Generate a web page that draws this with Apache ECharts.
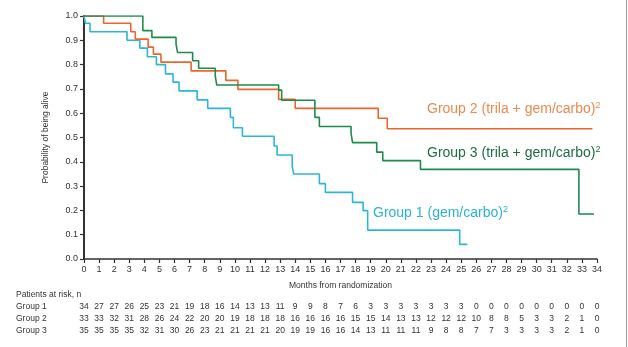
<!DOCTYPE html>
<html>
<head>
<meta charset="utf-8">
<script src="https://cdn.jsdelivr.net/npm/echarts@6/dist/echarts.min.js"></script>
<style>
  html, body { margin: 0; padding: 0; background: #fff; }
  #chart { width: 628px; height: 347px; }
</style>
</head>
<body>
<div id="chart"></div>
<script>
// Kaplan–Meier overall survival, three treatment groups
const g1Times = [0, 0.1, 0.4, 2.85, 3.7, 4.2, 4.8, 5.4, 5.9, 6.3, 7.5, 8.2, 9.7, 9.9, 10.5, 12.6, 12.8, 13.8, 13.9, 15.6, 16.0, 17.8, 18.5, 18.8, 24.9, 25.4];
const g1Surv  = [1.0, 0.97, 0.935, 0.90, 0.868, 0.832, 0.80, 0.762, 0.728, 0.692, 0.655, 0.62, 0.583, 0.54, 0.505, 0.465, 0.428, 0.38, 0.35, 0.31, 0.274, 0.233, 0.199, 0.119, 0.06, 0.06];

const g2Times = [0, 1.3, 3.1, 3.4, 4.25, 4.6, 5.1, 7.1, 9.4, 10.2, 12.9, 14.0, 19.5, 20.1, 33.7];
const g2Surv  = [1.0, 0.97, 0.935, 0.905, 0.872, 0.843, 0.81, 0.774, 0.735, 0.698, 0.657, 0.62, 0.579, 0.536, 0.536];

const g3Times = [0, 3.9, 4.5, 6.1, 6.2, 7.2, 7.6, 8.7, 8.8, 12.9, 13.1, 15.3, 15.6, 17.7, 17.8, 19.4, 19.8, 22.3, 32.8, 33.8];
const g3Surv  = [1.0, 0.94, 0.912, 0.884, 0.85, 0.816, 0.785, 0.753, 0.716, 0.695, 0.653, 0.583, 0.545, 0.517, 0.479, 0.44, 0.405, 0.369, 0.185, 0.185];

// Patients at risk at each whole month, 0..34
const riskMonths = Array.from({length: 35}, (_, i) => i);
const risk1 = [34, 27, 27, 26, 25, 23, 21, 19, 18, 16, 14, 13, 13, 11, 9, 9, 8, 7, 6, 3, 3, 3, 3, 3, 3, 3, 0, 0, 0, 0, 0, 0, 0, 0, 0];
const risk2 = [33, 33, 32, 31, 28, 26, 24, 22, 20, 20, 19, 18, 18, 18, 16, 16, 16, 16, 15, 15, 14, 13, 13, 12, 12, 12, 10, 8, 8, 5, 3, 3, 2, 1, 0];
const risk3 = [35, 35, 35, 35, 32, 31, 30, 26, 23, 21, 21, 21, 21, 20, 19, 19, 16, 16, 14, 13, 11, 11, 11, 9, 8, 8, 7, 7, 3, 3, 3, 3, 2, 1, 0];

const groupNames = ['Group 1', 'Group 2', 'Group 3'];
const curveLabels = ['Group 1 (gem/carbo)', 'Group 2 (trila + gem/carbo)', 'Group 3 (trila + gem/carbo)'];

const FONT = '"Liberation Sans", Arial, Helvetica, sans-serif';
const C1 = '#2cb6d8', C2 = '#e8672c', C3 = '#1e8b4c';
const T1 = '#2ab2d6', T2 = '#ea8a4f', T3 = '#1d6e45';
const AXIS = '#333';

const zip = (xs, ys) => xs.map((x, i) => [x, ys[i]]);

const chart = echarts.init(document.getElementById('chart'), null, {renderer: 'canvas'});

function kmSeries(name, times, surv, color) {
  return {
    name, type: 'line', step: 'end', data: zip(times, surv),
    showSymbol: false, symbol: 'none', silent: true,
    lineStyle: {color, width: 1.6}, z: 3
  };
}

chart.setOption({
  animation: false,
  backgroundColor: '#fff',
  grid: {left: 84, right: 31, top: 16, bottom: 88, containLabel: false},
  xAxis: {
    type: 'value', min: 0, max: 34, interval: 1,
    name: 'Months from randomization', nameLocation: 'middle', nameGap: 22,
    nameTextStyle: {fontFamily: FONT, fontSize: 8.5, color: AXIS},
    axisLine: {lineStyle: {color: AXIS, width: 1.5}},
    axisTick: {length: 4, lineStyle: {color: AXIS, width: 1.2}},
    axisLabel: {fontFamily: FONT, fontSize: 9, color: AXIS, margin: 6},
    splitLine: {show: false}
  },
  yAxis: {
    type: 'value', min: 0, max: 1, interval: 0.1,
    name: 'Probability of being alive', nameLocation: 'middle', nameGap: 34,
    nameTextStyle: {fontFamily: FONT, fontSize: 8.5, color: AXIS},
    axisLine: {show: true, lineStyle: {color: AXIS, width: 2}},
    axisTick: {show: true, length: 4, lineStyle: {color: AXIS, width: 1.2}},
    axisLabel: {fontFamily: FONT, fontSize: 9, color: AXIS, margin: 6, formatter: v => v.toFixed(1)},
    splitLine: {show: false}
  },
  series: [
    kmSeries(groupNames[0], g1Times, g1Surv, C1),
    kmSeries(groupNames[1], g2Times, g2Surv, C2),
    kmSeries(groupNames[2], g3Times, g3Surv, C3)
  ]
});

// Curve labels, risk table and frame line
const graphics = [];
function curveLabel(text, color, x, y) {
  graphics.push({
    type: 'text', left: x, top: y, silent: true,
    style: {
      text: '{m|' + text + '}{s|2}',
      rich: {
        m: {fontFamily: FONT, fontSize: 14, fill: color},
        s: {fontFamily: FONT, fontSize: 9, fill: color, verticalAlign: 'top', padding: [0, 0, 8, 0]}
      }
    }
  });
}
curveLabel(curveLabels[1], T2, 427, 101);
curveLabel(curveLabels[2], T3, 427, 145);
curveLabel(curveLabels[0], T1, 373, 205);

const tableFont = {fontFamily: FONT, fontSize: 8.5, fill: '#333'};
const rowY = [307, 319, 331];
graphics.push({type: 'text', left: 16, top: 295 - 5, silent: true,
  style: Object.assign({text: 'Patients at risk, n'}, tableFont)});
const riskRows = [risk1, risk2, risk3];
riskRows.forEach((row, r) => {
  graphics.push({type: 'text', left: 16, top: rowY[r] - 5, silent: true,
    style: Object.assign({text: groupNames[r]}, tableFont)});
  row.forEach((n, i) => {
    const px = chart.convertToPixel({xAxisIndex: 0}, riskMonths[i]);
    graphics.push({type: 'text', x: px, y: rowY[r], silent: true,
      style: Object.assign({text: String(n), align: 'center', verticalAlign: 'middle'}, tableFont)});
  });
});

graphics.push({type: 'line', silent: true,
  shape: {x1: 626.5, y1: 0, x2: 626.5, y2: 347},
  style: {stroke: '#9a9a9a', lineWidth: 1}});

chart.setOption({graphic: graphics});
</script>
</body>
</html>
